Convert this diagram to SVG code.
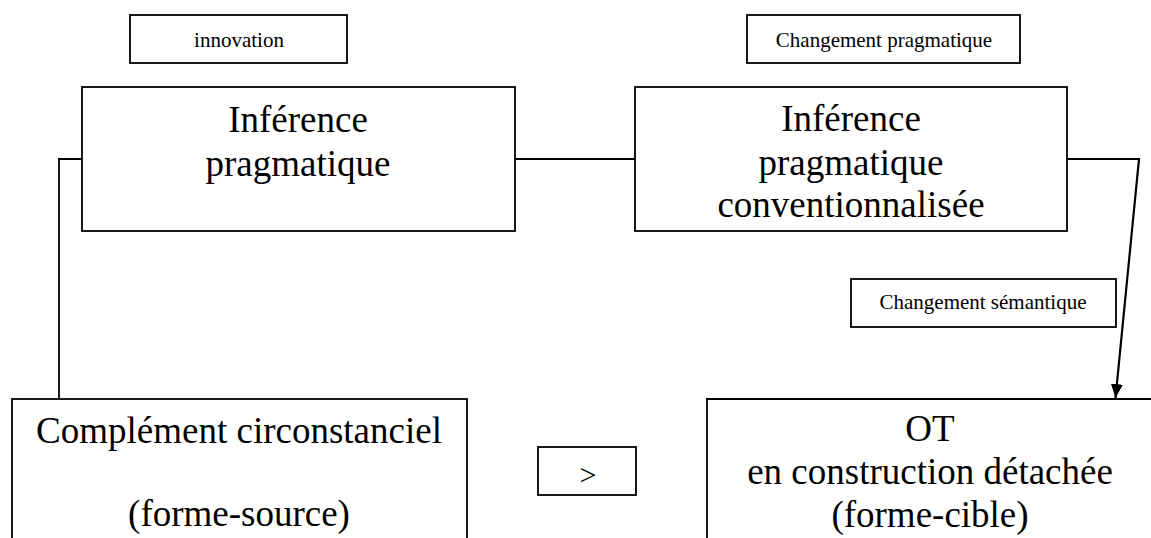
<svg xmlns="http://www.w3.org/2000/svg" width="1151" height="538" viewBox="0 0 1151 538">
<style>
.box{fill:#fff;stroke:#000;stroke-width:1.8}
.lbl{font-family:"Liberation Serif","Times New Roman",serif;font-size:21px;fill:#000;text-anchor:middle}
.big{font-family:"Liberation Serif","Times New Roman",serif;font-size:37px;fill:#000;text-anchor:middle}
.con{fill:none;stroke:#000;stroke-width:1.8}
</style>
<defs>
<marker id="arr" markerWidth="14" markerHeight="14" viewBox="0 0 14 14" refX="14" refY="7" orient="auto" markerUnits="userSpaceOnUse">
<path d="M0,1 L14,7 L0,13 Z" fill="#000"/>
</marker>
</defs>
<rect width="1151" height="538" fill="#fff"/>
<g id="connectors">
<polyline class="con" points="82,159 59,159 59,399"/>
<line class="con" x1="515" y1="159" x2="635" y2="159"/>
<polyline class="con" style="stroke-width:2.2" points="1067,159 1139,159 1115.5,398" marker-end="url(#arr)"/>
</g>
<g id="innovation">
<rect class="box" x="130" y="15" width="217" height="48"/>
<text class="lbl" x="239" y="47">innovation</text>
</g>
<g id="changement-pragmatique">
<rect class="box" x="747" y="15" width="273" height="48"/>
<text class="lbl" x="884" y="47">Changement pragmatique</text>
</g>
<g id="inference-pragmatique">
<rect class="box" x="82" y="87" width="433" height="144"/>
<text class="big" x="298" y="132">Inférence</text>
<text class="big" x="298" y="176">pragmatique</text>
</g>
<g id="inference-conventionnalisee">
<rect class="box" x="635" y="87" width="432" height="144"/>
<text class="big" x="851" y="131">Inférence</text>
<text class="big" x="851" y="175">pragmatique</text>
<text class="big" x="851" y="217">conventionnalisée</text>
</g>
<g id="changement-semantique">
<rect class="box" x="851" y="279" width="265" height="48"/>
<text class="lbl" x="983" y="309">Changement sémantique</text>
</g>
<g id="complement">
<rect class="box" x="12" y="399" width="455" height="160"/>
<text class="big" x="239" y="443">Complément circonstanciel</text>
<text class="big" x="239" y="526">(forme-source)</text>
</g>
<g id="gt">
<rect class="box" x="538" y="447" width="98" height="48"/>
<text class="lbl" x="588" y="485" style="font-size:30px">&gt;</text>
</g>
<g id="ot">
<path class="box" d="M1153,399 L707,399 L707,560"/>
<text class="big" x="930" y="441">OT</text>
<text class="big" x="930" y="484">en construction détachée</text>
<text class="big" x="930" y="527">(forme-cible)</text>
</g>
</svg>
